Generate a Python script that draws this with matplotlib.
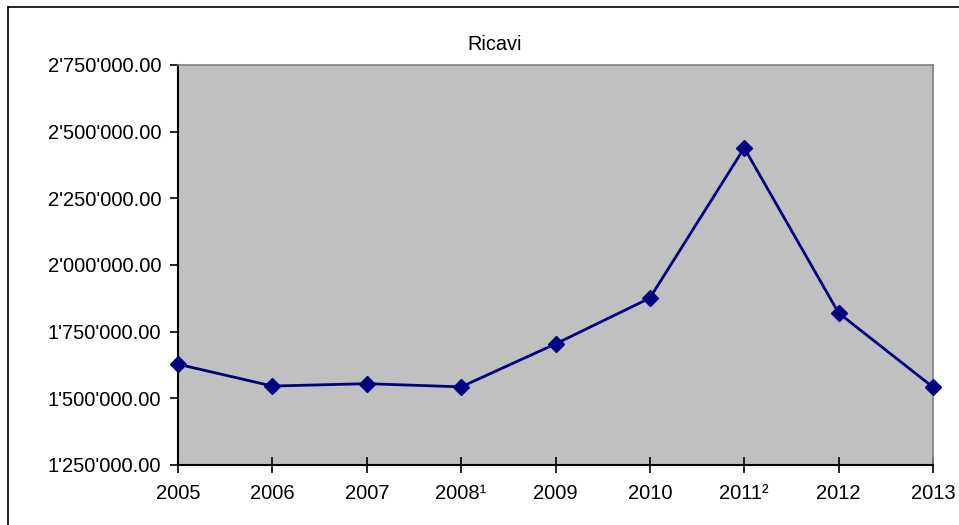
import matplotlib.pyplot as plt
from matplotlib.lines import Line2D
from matplotlib.ticker import FuncFormatter

plt.rcParams['font.family'] = ['Liberation Sans', 'DejaVu Sans']

# Revenue per year
YEARS = ["2005", "2006", "2007", "2008¹", "2009", "2010", "2011²", "2012", "2013"]
RICAVI = [1628000, 1546000, 1555000, 1543000, 1704000, 1876000, 2439000, 1820000, 1542000]
Y_TICKS = [1250000, 1500000, 1750000, 2000000, 2250000, 2500000, 2750000]

LINE_COLOR = '#000080'
PLOT_BG = '#C0C0C0'


def swiss_format(value, pos=None):
    """Format numbers with apostrophe thousand separators, e.g. 2'750'000.00"""
    return f"{value:,.2f}".replace(",", "'")


fig = plt.figure(figsize=(9.59, 5.25), dpi=100)
ax = fig.add_axes([178 / 959, 1 - 465 / 525, (933 - 178) / 959, 400 / 525])

x = list(range(len(YEARS)))
ax.plot(x, RICAVI, color=LINE_COLOR, linewidth=2, marker='D',
        markersize=8.5, markerfacecolor=LINE_COLOR, markeredgecolor=LINE_COLOR,
        clip_on=False, zorder=3)

ax.set_facecolor(PLOT_BG)
ax.set_xlim(0, len(YEARS) - 1)
ax.set_ylim(Y_TICKS[0], Y_TICKS[-1])
ax.set_xticks(x)
ax.set_xticklabels(YEARS)
ax.set_yticks(Y_TICKS)
ax.yaxis.set_major_formatter(FuncFormatter(swiss_format))

ax.tick_params(axis='y', direction='out', length=6, width=1.2, pad=6,
               labelsize=14.5, colors='black')
ax.tick_params(axis='x', direction='inout', length=12, width=1.2, pad=8,
               labelsize=14.5, colors='black')

for side in ('left', 'bottom'):
    ax.spines[side].set_color('black')
    ax.spines[side].set_linewidth(1.5)
for side in ('top', 'right'):
    ax.spines[side].set_color('#808080')
    ax.spines[side].set_linewidth(1.2)

fig.text(495 / 959, 1 - 45 / 525, "Ricavi", ha='center', va='center', fontsize=14.3)

# chart border, running off the right and bottom edges
fig.add_artist(Line2D([8 / 959, 8 / 959], [1 - 7 / 525, -0.1],
                      transform=fig.transFigure, color='black', linewidth=1.2))
fig.add_artist(Line2D([8 / 959, 1.1], [1 - 7 / 525, 1 - 7 / 525],
                      transform=fig.transFigure, color='black', linewidth=1.2))

fig.savefig('out.png', dpi=100)
